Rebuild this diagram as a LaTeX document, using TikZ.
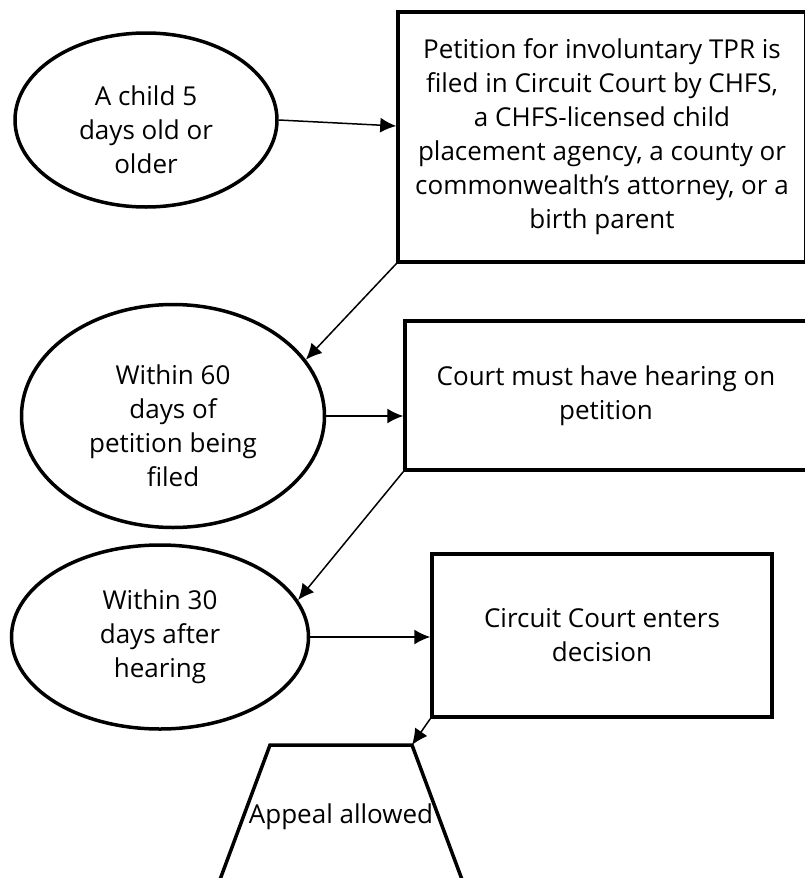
\documentclass[tikz,border=0pt]{standalone}
\usepackage{fontspec}
\setmainfont{Open Sans}
\usetikzlibrary{shapes.geometric,arrows.meta}

\begin{document}
\begin{tikzpicture}[x=1pt,y=-1pt,
		every node/.style={font=\fontsize{26}{34}\selectfont,align=center,inner sep=0pt},
		oval/.style={ellipse,draw,line width=3.5pt},
		box/.style={rectangle,draw,line width=3.5pt},
		arr/.style={-{Latex[length=16pt,width=15pt]},line width=1.5pt}]
		\useasboundingbox (0,0) rectangle (804,878);
		
		% Left column: time limits
		\node[oval,minimum width=262pt,minimum height=174pt] (child) at (146,120) {\rule{0pt}{40pt}A child 5\\days old or\\older};
		\node[oval,minimum width=303pt,minimum height=223pt] (within60) at (173,416) {\rule{0pt}{40pt}Within 60\\days of\\petition being\\filed};
		\node[oval,minimum width=297pt,minimum height=184pt] (within30) at (160,637) {Within 30\\days after\\hearing};
		
		% Right column: court steps
		\node[box,minimum width=408pt,minimum height=250pt] (petition) at (602,137) {Petition for involuntary TPR is\\filed in Circuit Court by CHFS,\\a CHFS-licensed child\\placement agency, a county or\\commonwealth’s attorney, or a\\birth parent};
		\node[box,minimum width=402pt,minimum height=149pt] (hearing) at (606,395.5) {Court must have hearing on\\petition};
		\node[box,minimum width=340pt,minimum height=163pt] (decision) at (602,635.5) {Circuit Court enters\\decision};
		
		% Trapezoid at the bottom
		\coordinate (appealtl) at (270,745);
		\coordinate (appealtr) at (412,745);
		\draw[line width=3.5pt] (215,893) -- (appealtl) -- (appealtr) -- (467,893);
		\node (appeal) at (341,817) {Appeal allowed};
		
		% Arrows
		\draw[arr] (child.east) -- ([yshift=11pt]petition.west);
		\draw[arr] (petition.south west) -- (within60.23);
		\draw[arr] (within60.east) -- (within60.east -| hearing.west);
		\draw[arr] (hearing.south west) -- (within30.15);
		\draw[arr] (within30.east) -- (within30.east -| decision.west);
		\draw[arr] (decision.south west) -- (appealtr);
		
	\end{tikzpicture}
\end{document}
